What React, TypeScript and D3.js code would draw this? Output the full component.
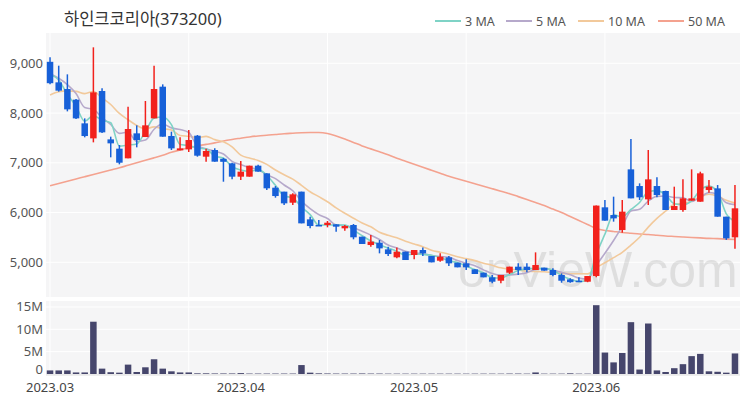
import React from 'react';
import * as d3 from 'd3';

const title = '하인크코리아(373200)';
const xTickIndex = [0, 22, 42, 63];
const xTickLabels = ['2023.03', '2023.04', '2023.05', '2023.06'];
const priceTicks = [5000, 6000, 7000, 8000, 9000];
const volTicks = [0, 5, 10, 15];
const volTickLabels = ['0', '5M', '10M', '15M'];

const opens = [9030, 8617, 8483, 8269, 7793, 7491, 8443, 7471, 7284, 7090, 7592, 7518, 7893, 8530, 7539, 7250, 7270, 7545, 7123, 7257,
  7080, 6989, 6721, 6721, 6942, 6788, 6500, 6420, 6198, 6420, 5863, 5750, 5750, 5763, 5683, 5750, 5515, 5347, 5394, 5260,
  5100, 5214, 5147, 5247, 5126, 5032, 5100, 4992, 4979, 4858, 4791, 4698, 4630, 4791, 4912, 4912, 4845, 4892, 4845, 4745,
  4657, 4630, 4610, 4724, 6105, 5950, 5649, 6868, 6533, 6265, 6533, 6433, 6051, 6051, 6239, 6218, 6453, 6486, 5917, 5502];
const highs = [9120, 8952, 8778, 8280, 7893, 9321, 8496, 7525, 7357, 8128, 7753, 8242, 8952, 8577, 7626, 7512, 7659, 7559, 7284, 7290,
  7100, 7000, 7036, 6942, 6960, 6788, 6533, 6420, 6386, 6420, 5917, 5850, 5830, 5763, 5750, 5770, 5515, 5549, 5448, 5314,
  5300, 5214, 5247, 5300, 5126, 5180, 5126, 4992, 5060, 4858, 4791, 4745, 4745, 4912, 4979, 4979, 5200, 4892, 4880, 4778,
  4680, 4698, 4724, 6140, 6252, 6319, 6252, 7478, 6587, 7257, 6708, 6440, 6520, 6667, 6868, 6821, 6654, 6553, 5917, 6553];
const lows = [8577, 8430, 8034, 7880, 7512, 7411, 7600, 7110, 6969, 7090, 7311, 7518, 7893, 7525, 7257, 7250, 7217, 7123, 7023, 7023,
  6620, 6667, 6654, 6721, 6822, 6453, 6299, 6152, 6152, 5783, 5683, 5729, 5703, 5616, 5636, 5462, 5368, 5314, 5180, 5126,
  5080, 5046, 5060, 5126, 4999, 5012, 4925, 4899, 4845, 4765, 4698, 4577, 4577, 4765, 4745, 4800, 4845, 4832, 4720, 4590,
  4590, 4604, 4600, 4700, 5837, 5817, 5595, 6285, 6252, 6152, 6306, 6051, 6051, 6018, 6239, 6218, 6399, 5917, 5450, 5270];
const closes = [8600, 8450, 8074, 7893, 7538, 8416, 7612, 7391, 7002, 7679, 7458, 7753, 8483, 7525, 7290, 7290, 7458, 7143, 7237, 7023,
  7020, 6721, 6822, 6942, 6822, 6487, 6332, 6185, 6366, 5783, 5729, 5729, 5796, 5716, 5729, 5502, 5368, 5415, 5280, 5166,
  5213, 5046, 5247, 5180, 4999, 5113, 4979, 4899, 4899, 4765, 4698, 4610, 4745, 4912, 4845, 4845, 4945, 4832, 4745, 4630,
  4600, 4604, 4724, 6140, 5837, 5883, 6018, 6285, 6306, 6667, 6352, 6051, 6131, 6285, 6285, 6788, 6520, 5917, 5481, 6085];
const priorCloses = [7800, 7900, 8000, 7983, 8000, 8900, 8710, 8800, 8940];
const volumesM = [0.8, 0.8, 0.8, 0.35, 0.35, 11.7, 1.2, 0.4, 0.3, 2.1, 0.45, 1.5, 3.3, 1.2, 0.6, 0.35, 0.35, 0.15, 0.15, 0.12,
  0.12, 0.12, 0.2, 0.1, 0.1, 0.1, 0.1, 0.1, 0.1, 2.0, 0.3, 0.15, 0.12, 0.1, 0.1, 0.1, 0.12, 0.1, 0.1, 0.08,
  0.08, 0.08, 0.08, 0.08, 0.08, 0.08, 0.08, 0.08, 0.08, 0.08, 0.08, 0.08, 0.08, 0.1, 0.1, 0.08, 0.35, 0.08, 0.08, 0.08,
  0.15, 0.08, 0.08, 15.4, 4.8, 2.6, 4.7, 11.6, 1.0, 11.3, 0.8, 0.45, 1.3, 2.2, 4.0, 4.5, 0.6, 0.5, 0.3, 4.6];
const ma50 = [6540, 6585, 6630, 6675, 6720, 6765, 6810, 6855, 6900, 6950, 7000, 7050, 7100, 7150, 7210, 7260, 7300, 7340, 7370, 7400,
  7440, 7470, 7495, 7520, 7540, 7555, 7570, 7585, 7595, 7605, 7610, 7610, 7590, 7540, 7480, 7410, 7340, 7280, 7220, 7160,
  7090, 7030, 6970, 6910, 6850, 6790, 6730, 6680, 6630, 6580, 6530, 6480, 6430, 6380, 6320, 6260, 6200, 6140, 6070, 6000,
  5920, 5840, 5760, 5680, 5640, 5620, 5600, 5585, 5570, 5560, 5545, 5530, 5520, 5510, 5500, 5490, 5480, 5475, 5465, 5460];

const maSpecs = [
  { label: '3 MA', n: 3, color: '#7fd3c6' },
  { label: '5 MA', n: 5, color: '#b6a9cb' },
  { label: '10 MA', n: 10, color: '#f2c99b' },
  { label: '50 MA', n: 50, color: '#f4a28f' },
];
const legendPos = [435, 506, 578, 658];

const UP = '#f2211c';
const DOWN = '#1760d8';
const FONT = "'Noto Sans', 'Noto Sans CJK KR', sans-serif";

export default function App() {
  const n = closes.length;
  const idx = d3.range(n);
  const x = d3.scaleBand<number>().domain(idx).range([45.7, 739.3]).paddingInner(0.25).paddingOuter(0.125);
  const cx = (i: number) => (x(i) as number) + x.bandwidth() / 2;
  const y = d3.scaleLinear().domain([5000, 9000]).range([262.3, 63.3]);
  const yv = d3.scaleLinear().domain([0, 16]).range([374, 302.5]);

  const all = priorCloses.concat(closes);
  const off = priorCloses.length;
  const maSeries = maSpecs.map((s) => {
    if (s.n === 50) return ma50;
    return idx.map((i) => d3.mean(all.slice(off + i - s.n + 1, off + i + 1)) as number);
  });
  const line = d3.line<number>().x((_, i) => cx(i)).y((v) => y(v)).curve(d3.curveMonotoneX);

  const plotL = 46, plotR = 740;
  const vGrid = [0, 16, 32, 48, 64];
  const bw = x.bandwidth();

  return (
    <svg width={750} height={400} style={{ position: 'absolute', left: 0, top: 0, background: '#fff' }} fontFamily={FONT}>
      <text x={64} y={25} fontSize={16.5} fill="#333">{title}</text>
      {maSpecs.map((s, k) => (
        <g key={s.label} transform={`translate(${legendPos[k]},21)`}>
          <line x1={0} x2={26} y1={0} y2={0} stroke={s.color} strokeWidth={2} />
          <text x={30} y={4.5} fontSize={12.5} fill="#555">{s.label}</text>
        </g>
      ))}
      <rect x={plotL} y={33} width={plotR - plotL} height={264} fill="#f5f5f6" />
      <rect x={plotL} y={301} width={plotR - plotL} height={74} fill="#f5f5f6" />
      {priceTicks.map((t) => (
        <g key={t}>
          <line x1={plotL} x2={plotR} y1={y(t)} y2={y(t)} stroke="#fff" strokeWidth={1} />
          <text x={43} y={y(t) + 4.5} fontSize={13} fill="#555" textAnchor="end">{d3.format(',')(t)}</text>
        </g>
      ))}
      {vGrid.map((i) => (
        <g key={i}>
          <line x1={cx(i)} x2={cx(i)} y1={33} y2={297} stroke="#fff" strokeWidth={1} />
          <line x1={cx(i)} x2={cx(i)} y1={301} y2={375} stroke="#fff" strokeWidth={1} />
        </g>
      ))}
      {volTicks.map((t, k) => (
        <g key={t}>
          {t > 0 && <line x1={plotL} x2={plotR} y1={yv(t)} y2={yv(t)} stroke="#fff" strokeWidth={1} />}
          <text x={43} y={yv(t) + (t === 0 ? 0 : 4.5)} fontSize={13} fill="#555" textAnchor="end">{volTickLabels[k]}</text>
        </g>
      ))}
      <text x={458} y={287} fontSize={50} fontFamily="'Liberation Sans', Arial, sans-serif" fill="#000" opacity={0.09}>onVieW.com</text>
      {maSeries.slice().reverse().map((s, k) => (
        <path key={k} d={line(s) as string} fill="none" stroke={maSpecs[maSpecs.length - 1 - k].color} strokeWidth={1.6} />
      ))}
      {idx.map((i) => {
        const up = closes[i] >= opens[i];
        const col = up ? UP : DOWN;
        const top = y(Math.max(opens[i], closes[i]));
        const bot = y(Math.min(opens[i], closes[i]));
        return (
          <g key={i}>
            <line x1={cx(i)} x2={cx(i)} y1={y(highs[i])} y2={y(lows[i])} stroke={col} strokeWidth={1.5} />
            <rect x={x(i) as number} y={top} width={bw} height={Math.max(bot - top, 1.5)} fill={col} />
          </g>
        );
      })}
      {idx.map((i) => (
        <rect key={i} x={x(i) as number} y={yv(volumesM[i])} width={bw} height={yv(0) - yv(volumesM[i])} fill="#46466c" />
      ))}
      <line x1={plotL} x2={plotR} y1={375} y2={375} stroke="#ddd" strokeWidth={1} />
      {xTickIndex.map((i, k) => (
        <text key={i} x={cx(i)} y={392} fontSize={13} fill="#444" textAnchor="middle">{xTickLabels[k]}</text>
      ))}
    </svg>
  );
}
